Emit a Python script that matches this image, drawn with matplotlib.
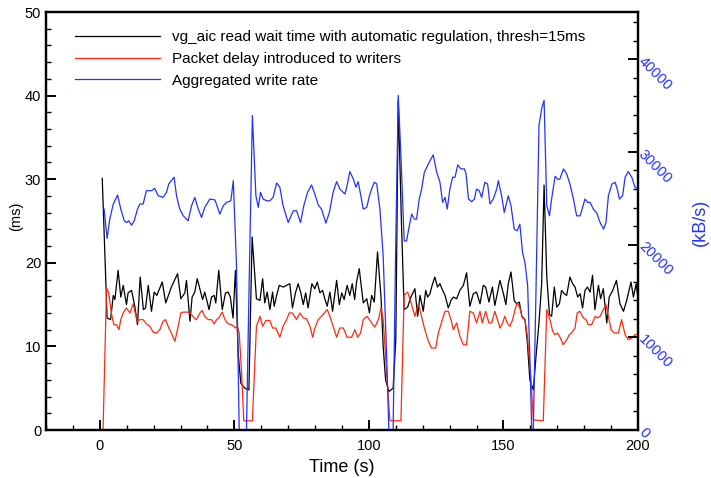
import matplotlib
matplotlib.use('Agg')
import matplotlib.pyplot as plt
from matplotlib.ticker import MultipleLocator

plt.rcParams['font.family'] = ['Liberation Sans', 'DejaVu Sans']

### Data
# read wait time (ms)
t_wait = [0.9, 2.7, 4.0, 5.0, 5.6, 6.8, 7.8, 8.7, 9.9, 10.5, 11.8, 13.0, 14.0, 15.0, 16.2, 17.0,
          18.0, 19.2, 20.2, 21.2, 23.2, 24.5, 26.6, 28.9, 30.1, 31.6, 32.2, 33.5, 34.3, 35.3,
          36.2, 37.5, 38.2, 39.0, 40.6, 41.5, 42.5, 43.1, 44.2, 45.5, 46.7, 47.7, 48.5, 49.5,
          50.4, 51.4, 52.4, 53.9, 55.4, 56.6, 58.2, 59.5, 60.5, 61.3, 62.2, 63.2, 64.2, 64.8,
          65.7, 66.7, 68.2, 69.4, 70.6, 71.6, 72.7, 73.7, 74.7, 75.6, 76.5, 77.4, 78.8, 79.9,
          80.8, 81.8, 82.8, 83.6, 84.5, 85.5, 86.5, 88.0, 89.0, 89.9, 90.8, 91.9, 92.9, 93.8,
          94.7, 95.4, 96.4, 97.9, 99.2, 100.2, 101.0, 102.0, 103.2, 104.5, 105.3, 106.2, 107.4,
          109.0, 110.0, 110.9, 112.1, 113.1, 114.4, 115.6, 117.1, 118.1, 119.0, 120.2, 121.1,
          121.8, 122.7, 123.3, 124.5, 125.5, 126.4, 127.4, 128.3, 129.5, 130.5, 131.4, 132.6,
          133.8, 135.1, 136.3, 137.5, 138.8, 140.0, 141.3, 142.5, 143.4, 144.6, 145.9, 146.8,
          148.7, 150.0, 150.9, 151.8, 152.8, 154.0, 154.9, 155.9, 156.8, 158.0, 158.9, 159.8,
          161.1, 162.1, 163.2, 164.2, 165.1, 166.1, 167.1, 167.9, 168.9, 169.8, 170.8, 171.6,
          172.6, 173.5, 174.7, 175.7, 176.6, 177.6, 178.5, 179.4, 180.3, 181.2, 182.2, 183.1,
          184.0, 185.3, 186.1, 187.1, 188.4, 189.3, 190.6, 192.0, 193.3, 194.6, 195.8, 197.4,
          198.3, 199.3, 200.1]
wait_ms = [30.1, 13.4, 13.2, 16.1, 15.6, 19.1, 15.9, 17.3, 15.0, 16.4, 16.7, 14.8, 12.6, 18.3, 14.4, 14.6,
           17.3, 14.2, 16.5, 16.1, 17.7, 15.2, 17.1, 18.7, 15.7, 16.4, 17.9, 13.0, 15.9, 16.5,
           18.1, 16.5, 15.6, 16.5, 14.4, 15.9, 16.1, 15.2, 19.1, 14.4, 16.4, 16.5, 15.9, 13.4,
           19.1, 9.2, 5.6, 5.0, 4.8, 23.1, 15.7, 15.5, 18.1, 15.2, 16.5, 14.4, 16.5, 14.8,
           16.1, 17.3, 17.1, 17.3, 17.5, 14.6, 16.4, 17.5, 16.4, 15.0, 16.4, 14.6, 17.5, 16.9,
           17.7, 16.4, 16.7, 15.7, 14.8, 16.5, 14.2, 17.9, 15.0, 16.4, 15.6, 17.3, 16.1, 17.5,
           15.6, 17.7, 19.3, 15.2, 15.7, 14.0, 16.1, 15.3, 21.3, 15.9, 10.0, 6.0, 4.6,
           5.0, 10.8, 39.5, 24.7, 14.4, 14.7, 15.9, 16.9, 13.6, 16.1, 14.2, 16.7,
           15.9, 16.3, 17.1, 18.3, 17.1, 17.5, 16.7, 16.1, 14.6, 15.5, 15.9, 15.7,
           16.7, 17.3, 18.8, 14.8, 16.3, 16.5, 15.1, 17.3, 17.1, 15.3, 17.1, 14.9,
           17.9, 16.3, 15.0, 17.5, 18.9, 15.5, 15.1, 15.3, 13.6, 13.2, 10.4, 6.0,
           4.8, 8.8, 12.8, 17.5, 29.3, 18.3, 13.8, 13.6, 17.1, 14.7, 15.1, 16.7,
           16.3, 16.1, 18.3, 17.5, 17.1, 15.9, 16.3, 14.6, 16.7, 17.1, 16.5, 18.5,
           14.4, 17.3, 15.7, 16.9, 12.8, 15.9, 16.7, 17.9, 15.1, 14.2, 15.5, 17.7,
           15.9, 17.5, 15.5]

# packet delay (ms)
t_delay = [1.2, 2.5, 3.3, 4.3, 5.2, 6.2, 7.1, 7.8, 8.7, 9.9, 11.2, 12.4, 13.0, 14.0, 14.9, 16.1,
           17.3, 18.6, 19.8, 21.1, 22.3, 23.5, 24.4, 25.4, 26.6, 27.9, 29.1, 30.1, 31.0, 32.8,
           34.1, 35.1, 35.9, 37.2, 38.0, 39.0, 40.3, 41.5, 42.5, 43.4, 44.2, 45.5, 46.5, 47.7,
           49.0, 50.4, 51.1, 51.8, 52.7, 53.5, 56.7, 58.2, 59.5, 60.5, 61.7, 63.2, 64.2, 65.4,
           66.9, 68.1, 69.4, 70.4, 71.6, 73.1, 74.4, 75.6, 76.8, 78.1, 79.1, 79.9, 81.2, 82.4,
           83.7, 84.5, 85.5, 86.7, 88.0, 89.2, 90.5, 91.9, 93.6, 94.8, 95.8, 96.9, 97.9, 99.2,
           99.8, 101.0, 102.2, 103.5, 104.5, 105.3, 106.6, 107.8, 111.9, 113.1, 114.4, 115.6,
           117.1, 118.4, 119.3, 120.6, 122.1, 123.3, 124.8, 125.8, 127.3, 128.3, 129.5, 130.5,
           131.4, 132.6, 133.8, 135.1, 136.3, 137.5, 138.8, 140.0, 141.3, 142.1, 143.4, 144.6,
           145.6, 146.8, 148.7, 149.7, 150.5, 151.4, 152.4, 153.4, 154.3, 155.1, 156.1, 157.1,
           158.0, 158.9, 160.1, 161.1, 164.8, 166.1, 167.3, 168.3, 169.1, 170.1, 171.2, 172.2,
           173.5, 174.5, 175.3, 176.6, 177.4, 178.4, 179.7, 180.7, 181.5, 182.8, 184.1, 185.0,
           185.9, 187.1, 188.1, 189.0, 190.0, 191.2, 192.7, 193.9, 195.2, 196.4, 197.7, 198.9,
           200.1]
delay_ms = [0.0, 17.0, 16.4, 14.0, 12.6, 12.6, 12.0, 13.2, 14.0, 14.6, 14.0, 15.1, 14.2, 13.0, 13.2, 13.2,
            12.7, 12.4, 11.7, 11.6, 12.0, 13.0, 13.2, 12.4, 11.6, 10.6, 12.4, 14.0, 14.1, 14.1,
            13.8, 13.4, 13.2, 14.0, 14.3, 13.6, 13.2, 13.2, 12.7, 13.2, 13.4, 14.1, 13.2, 12.7,
            12.6, 12.2, 12.4, 11.6, 6.8, 1.1, 1.1, 12.4, 13.6, 12.4, 13.1, 13.1, 12.2, 12.2,
            11.1, 12.4, 13.2, 14.0, 14.0, 13.2, 14.0, 13.4, 13.3, 12.4, 11.1, 12.2, 13.2, 13.6,
            14.1, 14.4, 13.6, 12.4, 11.1, 12.2, 12.2, 11.1, 11.1, 12.0, 11.1, 11.6, 13.2, 13.6,
            13.4, 12.8, 12.3, 13.2, 14.6, 13.2, 6.8, 1.1, 1.1, 16.1, 16.5, 15.3,
            13.6, 15.1, 13.9, 12.2, 10.6, 9.8, 9.8, 11.6, 13.2, 14.2, 14.2, 13.2,
            12.0, 12.8, 11.2, 10.2, 10.2, 14.2, 14.0, 12.8, 14.2, 12.8, 14.2, 12.8,
            12.8, 14.2, 12.2, 12.8, 13.6, 12.8, 12.4, 13.2, 14.4, 15.2, 14.6, 13.4,
            13.2, 11.2, 6.8, 1.2, 1.1, 14.4, 13.2, 11.8, 11.4, 11.6, 11.0, 10.2,
            10.8, 11.4, 11.6, 12.2, 14.0, 14.2, 13.4, 13.2, 12.6, 12.6, 13.6, 13.4,
            13.6, 14.4, 15.0, 13.6, 12.0, 11.6, 11.6, 13.2, 11.4, 10.8, 11.0, 11.4,
            11.4]

# aggregated write rate (kB/s)
t_rate = [1.6, 2.7, 3.7, 5.0, 6.6, 7.8, 9.1, 9.9, 10.8, 11.8, 12.8, 14.0, 14.9, 16.1, 17.3, 19.2,
          20.4, 21.7, 23.5, 24.8, 25.6, 27.6, 28.5, 29.7, 31.0, 32.8, 34.1, 35.3, 36.6, 37.8,
          39.0, 40.9, 42.8, 44.6, 45.9, 47.1, 48.7, 49.6, 50.8, 51.8, 54.5, 55.5, 56.7, 58.0,
          58.9, 59.7, 60.7, 62.0, 63.2, 64.4, 65.7, 66.9, 68.1, 70.0, 71.9, 73.1, 74.6, 75.8,
          77.2, 78.7, 79.9, 81.2, 82.4, 84.0, 85.3, 86.7, 88.0, 89.2, 91.1, 91.9, 92.9, 94.2,
          95.2, 96.0, 97.0, 97.9, 99.2, 100.2, 101.0, 102.0, 102.9, 104.1, 105.3, 106.6, 107.4,
          109.0, 109.9, 110.9, 111.9, 113.1, 114.0, 115.0, 115.9, 116.9, 117.7, 118.7, 119.6,
          120.6, 122.1, 123.9, 125.2, 126.4, 127.4, 128.3, 129.1, 130.1, 131.1, 132.0, 133.0,
          134.2, 135.5, 136.1, 137.0, 138.2, 139.2, 140.0, 141.0, 141.9, 143.1, 144.1, 145.0,
          146.2, 147.5, 148.1, 149.3, 150.3, 151.8, 152.8, 154.0, 155.1, 156.1, 157.1, 158.0,
          159.0, 159.8, 160.5, 161.1, 162.1, 163.2, 164.2, 165.1, 166.1, 167.1, 167.9, 169.2,
          170.4, 171.0, 172.3, 173.5, 174.7, 176.0, 177.2, 178.5, 180.3, 181.3, 182.2, 183.4,
          184.7, 185.9, 187.2, 188.1, 189.0, 190.3, 191.5, 192.3, 193.1, 194.3, 195.2, 196.4,
          197.7, 198.9, 200.1]
rate_kbs = [23835, 20660, 22750, 24380, 25350, 23835, 22570, 22390, 22570, 22100, 22570, 23835,
            24380, 24380, 25820, 25820, 26070, 25280, 25100, 25640, 26540, 27270, 25280, 23835,
            23110, 22570, 24200, 25100, 23835, 22930, 24020, 24920, 24820, 23290, 24200, 24560,
            24730, 26900, 17690, 0, 0, 15890, 33940, 25280, 24020, 25640, 24920, 24730, 24730,
            25100, 26650, 26190, 24200, 22390, 23650, 23650, 22390, 24200, 25640, 26440, 25460,
            24270, 23835, 22320, 23470, 25640, 26800, 26000, 25460, 26360, 27880, 27090, 26190,
            26800, 25280, 23835, 24020, 25280, 26000, 26730, 26550, 23835, 18780, 7940, 0,
            0, 18780, 36110, 29610, 20400, 20400, 22030, 23290, 22750, 22750, 24920, 26000,
            27810, 28710, 29690, 27810, 26730, 24560, 25100, 23835, 26000, 27270, 27270, 28600,
            28170, 28170, 27630, 24920, 24630, 24920, 26000, 25820, 25100, 26730, 26550, 24380,
            24920, 26000, 26900, 25280, 23470, 25280, 24200, 21670, 21490, 22210, 19140, 18060,
            15530, 7940, 0, 0, 15170, 32860, 34670, 35570, 24200, 23110, 24920, 27380,
            27020, 27090, 28170, 27630, 26540, 24920, 23110, 23110, 24920, 24560, 24560, 23835,
            23400, 22390, 21670, 22390, 25280, 26540, 26730, 26000, 24920, 25280, 27270, 27880,
            27270, 26190, 26000]

labels = ['vg_aic read wait time with automatic regulation, thresh=15ms',
          'Packet delay introduced to writers',
          'Aggregated write rate']
colors = ['black', '#ff2a10', '#2432ff']

### Plot
fig = plt.figure(figsize=(7.11, 4.78), dpi=100)
ax = fig.add_axes([46/711, 48/478, 592/711, 418/478])
ax2 = ax.twinx()

l1, = ax.plot(t_wait, wait_ms, color=colors[0], linewidth=0.9, label=labels[0])
l2, = ax.plot(t_delay, delay_ms, color=colors[1], linewidth=0.9, label=labels[1])
l3, = ax2.plot(t_rate, rate_kbs, color=colors[2], linewidth=0.9, label=labels[2])

ax.set_xlim(-20, 200)
ax.set_ylim(0, 50)
ax2.set_ylim(0, 45100)

ax.xaxis.set_major_locator(MultipleLocator(50))
ax.xaxis.set_minor_locator(MultipleLocator(10))
ax.yaxis.set_major_locator(MultipleLocator(10))
ax.yaxis.set_minor_locator(MultipleLocator(2))
ax2.yaxis.set_major_locator(MultipleLocator(10000))
ax2.yaxis.set_minor_locator(MultipleLocator(2000))

for a in (ax, ax2):
    for sp in a.spines.values():
        sp.set_linewidth(1.6)
        sp.set_color('black')

ax.tick_params(which='both', direction='in', top=False, right=False, width=1.4, labelsize=10.5)
ax.tick_params(which='major', length=7)
ax.tick_params(which='minor', length=3.5, width=1.0)
ax.tick_params(axis='x', pad=6.5)
ax2.tick_params(which='both', direction='in', width=1.4, labelsize=10.5,
                labelcolor=colors[2], pad=2)
ax2.tick_params(which='major', length=7)
ax2.tick_params(which='minor', length=3.5, width=1.0)
for lab in ax2.get_yticklabels():
    lab.set_rotation(-45)
    lab.set_rotation_mode('anchor')
    lab.set_ha('left')
    lab.set_va('center')

ax.set_xlabel('Time (s)', fontsize=13, labelpad=4.5)
ax.set_ylabel('(ms)', fontsize=10.5)
ax.yaxis.set_label_coords(-0.039, 0.512)
ax2.set_ylabel('(kB/s)', fontsize=13, color=colors[2])
ax2.yaxis.set_label_coords(1.091, 0.497)

leg = ax2.legend(handles=[l1, l2, l3], loc='upper left', bbox_to_anchor=(0.026, 0.99),
                 frameon=False, fontsize=11, handlelength=5.55, handletextpad=0.76,
                 labelspacing=0.52)

fig.savefig('out.png', dpi=100)
